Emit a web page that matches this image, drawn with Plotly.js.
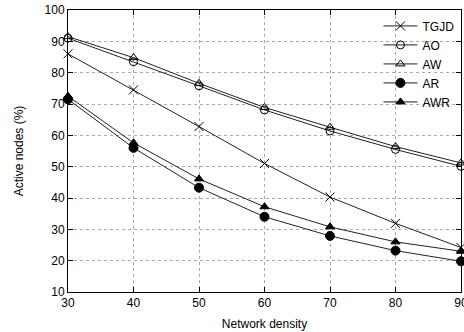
<!DOCTYPE html>
<html>
<head>
<meta charset="utf-8">
<script src="https://cdn.plot.ly/plotly-3.0.1.min.js"></script>
<style>html,body{margin:0;padding:0;background:#fff;}#chart{width:464px;height:332px;}</style>
</head>
<body>
<div id="chart"></div>
<script>
var density = [30, 40, 50, 60, 70, 80, 90];
var xTicks = [30, 40, 50, 60, 70, 80, 90];
var yTicks = [10, 20, 30, 40, 50, 60, 70, 80, 90, 100];
var seriesNames = ["TGJD", "AO", "AW", "AR", "AWR"];
var tgjd = [86, 74.5, 62.8, 51, 40.3, 31.9, 24.2];
var ao = [91, 83.5, 75.8, 68.1, 61.4, 55.5, 50.1];
var aw = [91.5, 84.8, 76.6, 68.9, 62.6, 56.4, 51.2];
var ar = [71.5, 56, 43.3, 34, 27.9, 23.2, 19.8];
var awr = [72.5, 57.6, 46.1, 37.2, 30.8, 26, 23];

var values = [tgjd, ao, aw, ar, awr];
var symbols = ["x-thin-open", "circle-open", "triangle-up-open", "circle", "triangle-up"];
var sizes = [9, 8, 8, 9, 8];

var traces = values.map(function (v, i) {
  return {
    x: density, y: v, name: seriesNames[i],
    type: "scatter", mode: "lines+markers",
    line: {color: "#222", width: 1},
    marker: {symbol: symbols[i], size: sizes[i], color: "#000",
             line: {color: "#000", width: 1}},
    cliponaxis: false
  };
});

var font = {family: "Liberation Sans, Arial, sans-serif", size: 12, color: "#000"};
var axisCommon = {
  showline: true, linecolor: "#000", linewidth: 1, mirror: "ticks",
  ticks: "inside", ticklen: 5, tickcolor: "#000", tickwidth: 1,
  showgrid: true, gridcolor: "#aaa", gridwidth: 1, griddash: "dot",
  zeroline: false, tickfont: font, ticklabeloverflow: "allow"
};

var layout = {
  width: 464, height: 332,
  margin: {l: 68, r: 3, t: 10, b: 40},
  paper_bgcolor: "#fff", plot_bgcolor: "#fff",
  font: font,
  showlegend: true,
  legend: {x: 0.79, y: 0.995, xanchor: "left", yanchor: "top",
           bgcolor: "rgba(0,0,0,0)", font: font, itemwidth: 34,
           tracegroupgap: 0},
  xaxis: Object.assign({}, axisCommon, {
    range: [30, 90], tickvals: xTicks, ticktext: xTicks.map(String),
    title: {text: "Network density", font: font, standoff: 10}
  }),
  yaxis: Object.assign({}, axisCommon, {
    range: [10, 100], tickvals: yTicks, ticktext: yTicks.map(String),
    title: {text: "Active nodes (%)", font: font, standoff: 18}
  })
};

Plotly.newPlot("chart", traces, layout, {displayModeBar: false, staticPlot: true});
</script>
</body>
</html>
